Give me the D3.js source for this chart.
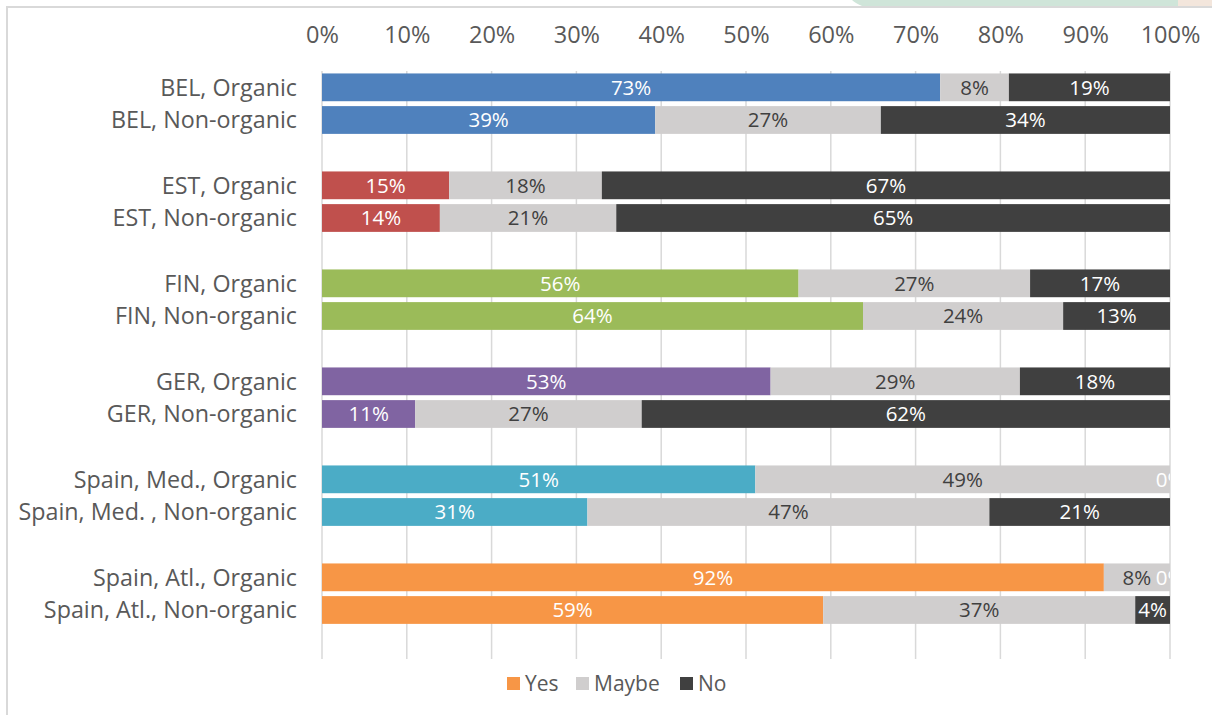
<!DOCTYPE html>
<html>
<head>
<meta charset="utf-8">
<script src="https://cdn.jsdelivr.net/npm/d3@7/dist/d3.min.js"></script>
<style>
  html, body { margin: 0; padding: 0; background: #fff; }
  svg { display: block; font-family: "Open Sans", sans-serif; }
</style>
</head>
<body>
<svg id="chart" width="1212" height="715"></svg>
<script>
// ---- data ----
const categories = [
  "BEL, Organic", "BEL, Non-organic",
  "EST, Organic", "EST, Non-organic",
  "FIN, Organic", "FIN, Non-organic",
  "GER, Organic", "GER, Non-organic",
  "Spain, Med., Organic", "Spain, Med. , Non-organic",
  "Spain, Atl., Organic", "Spain, Atl., Non-organic"
];
const yesValues   = [72.9, 39.3, 15.0, 13.9, 56.2, 63.8, 52.9, 11.0, 51.1, 31.3, 92.2, 59.1];
const maybeValues = [ 8.1, 26.6, 18.0, 20.8, 27.3, 23.6, 29.4, 26.7, 48.9, 47.4,  7.8, 36.8];
const noValues    = [19.0, 34.1, 67.0, 65.3, 16.5, 12.6, 17.7, 62.3,  0.0, 21.3,  0.0,  4.1];
const seriesNames = ["Yes", "Maybe", "No"];
const tickValues  = [0, 10, 20, 30, 40, 50, 60, 70, 80, 90, 100];
const groupColors = ["#4f81bd", "#c0504d", "#9bbb59", "#8064a2", "#4bacc6", "#f79646"];
const maybeColor = "#d0cece";
const noColor = "#404040";

// ---- layout ----
const svg = d3.select("#chart");
const plot = { left: 322, right: 1170, top: 71, bottom: 659 };

// decorative strip at top (page background in source)
svg.append("path")
  .attr("d", "M852,0 L1178,0 L1178,6 L862,6 Q855,3 852,0 Z")
  .attr("fill", "#cfe5d9");
svg.append("rect").attr("x", 1178).attr("y", 0).attr("width", 34).attr("height", 6).attr("fill", "#f3e6dc");

// chart border
svg.append("rect")
  .attr("x", 7).attr("y", 7).attr("width", 1215).attr("height", 720)
  .attr("fill", "#fff").attr("stroke", "#d9d9d9").attr("stroke-width", 2);

// rows: each pair followed by an empty spacer row
const rowKeys = [];
categories.forEach((c, i) => {
  rowKeys.push("r" + i);
  if (i % 2 === 1) rowKeys.push("s" + i);
});

const x = d3.scaleLinear().domain([0, 100]).range([plot.left, plot.right]);
const y = d3.scaleBand().domain(rowKeys).range([plot.top, plot.bottom]).paddingInner(0.15).paddingOuter(0.075);

// gridlines
svg.append("g").selectAll("line").data(tickValues).join("line")
  .attr("x1", d => x(d)).attr("x2", d => x(d))
  .attr("y1", plot.top).attr("y2", plot.bottom)
  .attr("stroke", "#d9d9d9").attr("stroke-width", 1.5);

// top axis labels
const xAxis = d3.axisTop(x).tickValues(tickValues).tickFormat(d => d + "%").tickSize(0).tickPadding(0);
const ax = svg.append("g").attr("transform", `translate(0,35)`).call(xAxis);
ax.select(".domain").remove();
ax.selectAll("text")
  .attr("font-size", 23.5).attr("fill", "#595959")
  .attr("font-family", "'Open Sans', sans-serif")
  .attr("dy", "0.35em").attr("y", 0);

// category labels
svg.append("g").selectAll("text").data(categories).join("text")
  .attr("x", plot.left - 25)
  .attr("y", (d, i) => y("r" + i) + y.bandwidth() / 2)
  .attr("dy", "0.36em")
  .attr("text-anchor", "end")
  .attr("font-size", 23.3)
  .attr("fill", "#595959")
  .text(d => d);

// stacked segments
const rows = categories.map((c, i) => {
  const vals = [yesValues[i], maybeValues[i], noValues[i]];
  let acc = 0;
  return vals.map((v, k) => {
    const s = { row: i, key: seriesNames[k], k, x0: acc, x1: acc + v, v };
    acc += v;
    return s;
  });
});
const segs = rows.flat();

const colorFor = s => s.k === 0 ? groupColors[Math.floor(s.row / 2)] : (s.k === 1 ? maybeColor : noColor);

svg.append("g").selectAll("rect").data(segs).join("rect")
  .attr("x", d => x(d.x0))
  .attr("y", d => y("r" + d.row))
  .attr("width", d => x(d.x1) - x(d.x0))
  .attr("height", y.bandwidth())
  .attr("fill", colorFor);

// data labels (clipped to plot)
svg.append("clipPath").attr("id", "plotclip")
  .append("rect").attr("x", 0).attr("y", 0).attr("width", plot.right).attr("height", 715);

svg.append("g").attr("clip-path", "url(#plotclip)")
  .selectAll("text").data(segs).join("text")
  .attr("x", d => x((d.x0 + d.x1) / 2))
  .attr("y", d => y("r" + d.row) + y.bandwidth() / 2)
  .attr("dy", "0.36em")
  .attr("text-anchor", "middle")
  .attr("font-size", 20.5)
  .attr("fill", d => d.k === 1 ? (d.v === 0 ? "#fff" : "#404040") : "#fff")
  .text(d => Math.round(d.v) + "%");

// legend
const legendItems = seriesNames.map((n, k) => ({ name: n, color: k === 0 ? groupColors[5] : (k === 1 ? maybeColor : noColor) }));
const legendX = [507, 576, 680];
const lg = svg.append("g");
legendItems.forEach((it, k) => {
  lg.append("rect").attr("x", legendX[k]).attr("y", 677).attr("width", 13).attr("height", 13).attr("fill", it.color);
  lg.append("text").attr("x", legendX[k] + 18).attr("y", 683.5).attr("dy", "0.36em")
    .attr("font-size", 21).attr("fill", "#595959").text(it.name);
});
</script>
</body>
</html>
